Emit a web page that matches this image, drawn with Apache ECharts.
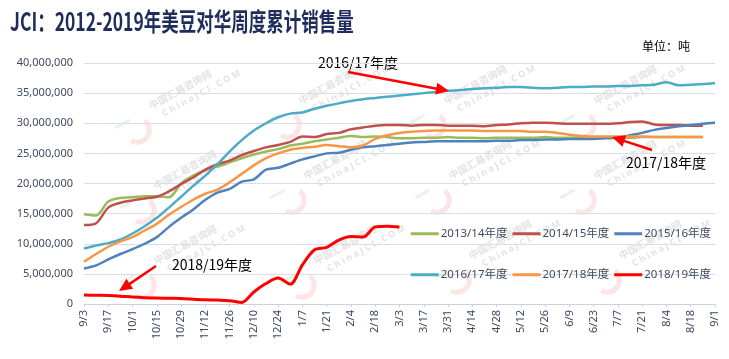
<!DOCTYPE html>
<html><head><meta charset="utf-8">
<script src="https://cdn.jsdelivr.net/npm/echarts@6/dist/echarts.min.js"></script>
<style>html,body{margin:0;padding:0;background:#fff}#c{width:729px;height:359px}</style>
</head><body><div id="c"></div>
<script>
// Week labels (Sept -> Aug marketing year)
const categories = ['9/3','9/10','9/17','9/24','10/1','10/8','10/15','10/22','10/29','11/5','11/12','11/19','11/26','12/3','12/10','12/17','12/24','12/31','1/7','1/14','1/21','1/28','2/4','2/11','2/18','2/25','3/3','3/10','3/17','3/24','3/31','4/7','4/14','4/21','4/28','5/5','5/12','5/19','5/26','6/2','6/9','6/16','6/23','6/30','7/7','7/14','7/21','7/28','8/4','8/11','8/18','8/25','9/1'];

// Values in million tonnes
const UNIT = 1000000;
const s2013_14 = [14.9,14.7,17.0,17.6,17.7,17.9,17.9,17.7,20.0,21.3,22.2,22.8,23.5,24.2,24.8,25.3,25.7,26.3,26.6,27.0,27.3,27.6,27.9,27.7,27.8,27.7,27.5,27.5,27.6,27.6,27.7,27.6,27.6,27.5,27.6,27.6,27.6,27.6,27.7,27.6,27.6,27.6,27.6,27.6,27.6,27.6,27.7,27.7,27.7,27.7,27.7,27.7,null];
const s2014_15 = [13.1,13.4,16.0,16.8,17.2,17.5,17.8,18.7,19.9,21.0,22.3,23.2,23.8,24.7,25.4,26.0,26.4,26.9,27.8,27.7,28.2,28.4,29.0,29.3,29.6,29.7,29.7,29.6,29.7,29.7,29.6,29.6,29.6,29.5,29.7,29.8,30.0,30.1,30.1,30.0,29.9,29.9,29.9,29.9,30.0,30.2,30.3,29.8,29.7,29.7,29.6,29.6,null];
const s2015_16 = [5.9,6.4,7.4,8.3,9.1,10.0,11.1,12.8,14.3,15.7,17.3,18.5,19.1,20.3,20.7,22.3,22.6,23.3,24.0,24.5,25.0,25.1,25.6,26.0,26.2,26.4,26.6,26.8,26.9,27.0,27.0,27.0,27.0,27.0,27.1,27.1,27.2,27.2,27.3,27.3,27.4,27.4,27.4,27.5,27.6,28.0,28.4,28.9,29.2,29.5,29.7,29.9,30.1];
const s2016_17 = [9.2,9.7,10.1,10.7,11.7,12.9,14.3,16.0,17.8,19.6,21.3,23.2,25.3,27.2,28.8,30.0,31.0,31.6,31.8,32.4,32.9,33.3,33.7,34.0,34.2,34.4,34.6,34.8,35.0,35.2,35.4,35.5,35.7,35.8,35.9,36.0,36.0,35.9,35.8,35.9,36.0,36.0,36.1,36.1,36.2,36.2,36.3,36.4,36.8,36.3,36.4,36.5,36.7];
const s2017_18 = [7.0,8.3,9.5,10.4,11.1,12.2,13.3,14.8,16.1,17.3,18.3,19.0,20.2,21.6,23.0,24.2,25.0,25.6,25.9,26.1,26.4,26.2,26.0,26.3,27.4,28.0,28.4,28.6,28.7,28.8,28.8,28.8,28.8,28.7,28.7,28.7,28.7,28.6,28.6,28.4,28.1,27.9,27.8,27.8,27.8,27.8,27.8,27.7,27.7,27.7,27.7,27.7,null];
const s2018_19 = [1.5,1.45,1.4,1.3,1.15,1.05,1.0,0.95,0.9,0.8,0.7,0.65,0.55,0.25,2.0,3.4,4.3,3.3,6.5,9.0,9.4,10.6,11.2,11.1,12.8,12.9,12.8];

const seriesNames = ['2013/14年度','2014/15年度','2015/16年度','2016/17年度','2017/18年度','2018/19年度'];
const seriesData = [s2013_14, s2014_15, s2015_16, s2016_17, s2017_18, s2018_19];
const colors = ['#9BBB59','#C0504D','#4F81BD','#4BACC6','#F79646','#FF0000'];

const FONT = '"Noto Sans", "Noto Sans CJK SC", sans-serif';
const AXIS_TXT = '#3F4A5E';

const chart = echarts.init(document.getElementById('c'), null, {renderer: 'canvas'});

function arrow(x1, y1, x2, y2) {
  const dx = x2 - x1, dy = y2 - y1, L = Math.sqrt(dx*dx + dy*dy);
  const ux = dx / L, uy = dy / L, hl = 13, hw = 6;
  const bx = x2 - ux*hl, by = y2 - uy*hl;
  return [
    {type: 'line', shape: {x1: x1, y1: y1, x2: bx + ux*2, y2: by + uy*2}, style: {stroke: '#FF0000', lineWidth: 2.5}, z: 100},
    {type: 'polygon', shape: {points: [[x2, y2], [bx - uy*hw, by + ux*hw], [bx + uy*hw, by - ux*hw]]}, style: {fill: '#FF0000'}, z: 100}
  ];
}

// faint site watermarks (decoration)
const wmSpots = [[180,100],[330,95],[475,95],[625,95],[185,180],[335,170],[480,170],[625,170],[185,255],[345,255],[500,250],[650,250]];
const watermarks = wmSpots.map(p => ({
  type: 'group', x: p[0], y: p[1], rotation: 0.5, z: 0, silent: true,
  children: [
    {type: 'text', x: -30, y: -14, style: {text: '中国汇易咨询网', font: 'bold 10px "Noto Sans CJK SC", sans-serif', fill: 'rgba(150,150,150,0.28)'}},
    {type: 'text', x: -22, y: 0, style: {text: 'C h i n a J C I . C O M', font: 'bold 9px "Noto Sans", sans-serif', fill: 'rgba(150,150,150,0.28)'}},
    {type: 'rect', shape: {x: -70, y: -8, width: 16, height: 3}, style: {fill: 'rgba(120,200,120,0.18)'}},
    {type: 'arc', shape: {cx: -52, cy: 6, r: 12, startAngle: -0.4, endAngle: 2.6}, style: {stroke: 'rgba(240,110,110,0.18)', lineWidth: 5, fill: null}}
  ]
}));

const series = seriesData.map((d, k) => ({
  name: seriesNames[k],
  type: 'line',
  data: d.map(v => v == null ? null : Math.round(v * UNIT)),
  symbol: 'none',
  smooth: 0.3,
  lineStyle: {color: colors[k], width: k === 5 ? 3 : 2.5},
  itemStyle: {color: colors[k]},
  z: 2 + k
}));

const legendBase = {
  orient: 'horizontal', right: 13, itemWidth: 28, itemHeight: 3, itemGap: 5, icon: 'rect',
  textStyle: {fontSize: 11.5, color: AXIS_TXT, fontFamily: FONT, padding: [0, 0, 0, -3]}
};

chart.setOption({
  animation: false,
  backgroundColor: '#fff',
  textStyle: {fontFamily: FONT},
  grid: {left: 84, right: 14, top: 63, bottom: 55, containLabel: false},
  legend: [
    Object.assign({}, legendBase, {top: 223, data: seriesNames.slice(0, 3)}),
    Object.assign({}, legendBase, {top: 264, data: seriesNames.slice(3)})
  ],
  xAxis: {
    type: 'category', data: categories, boundaryGap: false,
    axisLine: {lineStyle: {color: '#C9D2DE', width: 1}},
    axisTick: {show: true, interval: 1, length: 3, lineStyle: {color: '#C9D2DE'}},
    axisLabel: {interval: 1, rotate: 90, fontSize: 11, color: AXIS_TXT, margin: 6, fontFamily: FONT}
  },
  yAxis: {
    type: 'value', min: 0, max: 40000000, interval: 5000000,
    axisLine: {show: false}, axisTick: {show: false},
    axisLabel: {fontSize: 11, color: AXIS_TXT, margin: 11, fontFamily: FONT},
    splitLine: {lineStyle: {color: '#D9DEE6', width: 1}}
  },
  series: series,
  graphic: watermarks.concat([
    {type: 'text', left: 10, top: 9, scaleX: 0.7, style: {text: 'JCI：2012-2019年美豆对华周度累计销售量', font: 'bold 25px "Noto Sans CJK SC", sans-serif', fill: '#1F2D5C'}},
    {type: 'text', left: 642, top: 40, style: {text: '单位：吨', font: '12px "Noto Sans CJK SC", sans-serif', fill: '#000'}},
    {type: 'text', left: 318, top: 56, style: {text: '2016/17年度', font: '14px "Noto Sans CJK SC", sans-serif', fill: '#000'}},
    {type: 'text', left: 626, top: 156, style: {text: '2017/18年度', font: '14px "Noto Sans CJK SC", sans-serif', fill: '#000'}},
    {type: 'text', left: 172, top: 258, style: {text: '2018/19年度', font: '14px "Noto Sans CJK SC", sans-serif', fill: '#000'}}
  ]).concat(arrow(348, 72, 449, 91), arrow(652, 150, 612, 137), arrow(156, 266, 119, 291))
});
</script>
</body></html>
